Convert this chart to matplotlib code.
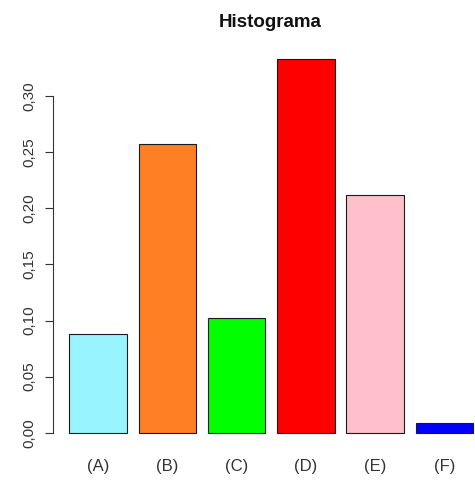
import matplotlib

matplotlib.use("Agg")
import matplotlib.pyplot as plt

# relative frequencies per category
categories = ["(A)", "(B)", "(C)", "(D)", "(E)", "(F)"]
freqs = [0.0877, 0.257, 0.102, 0.333, 0.2116, 0.0089]
bar_colors = ["#98F5FF", "#FF7F24", "#00FF00", "#FF0000", "#FFC0CB", "#0000FF"]
y_ticks = [0.00, 0.05, 0.10, 0.15, 0.20, 0.25, 0.30]
y_labels = ["0,00", "0,05", "0,10", "0,15", "0,20", "0,25", "0,30"]

plt.rcParams["font.family"] = ["Liberation Sans", "DejaVu Sans"]

fig = plt.figure(figsize=(4.75, 4.8), dpi=100)
ax = fig.add_axes([0.1114, 0.0673, 0.8886, 0.8415])

# R barplot style: width 1, space 0.2
lefts = [0.2 + i * 1.2 for i in range(len(categories))]
ax.bar(lefts, freqs, width=1.0, align="edge", color=bar_colors,
       edgecolor="#1a1a1a", linewidth=0.8)

ax.set_xlim(-0.084, 7.231)
ax.set_ylim(-0.0133, 0.3466)

for side in ("top", "right", "bottom"):
    ax.spines[side].set_visible(False)
ax.spines["left"].set_bounds(0, 0.30)
ax.spines["left"].set_color("#333333")
ax.spines["left"].set_linewidth(0.8)

ax.set_yticks(y_ticks)
ax.set_yticklabels(y_labels, rotation=90, va="center", fontsize=11, color="#333333")
ax.tick_params(axis="y", length=6, width=0.8, color="#333333", pad=6)

ax.set_xticks([l + 0.5 for l in lefts])
ax.set_xticklabels(categories, fontsize=12, color="#333333")
ax.tick_params(axis="x", length=0, pad=8)

fig.text(270 / 475, 1 - 26.6 / 480, "Histograma", ha="center", va="baseline",
         fontsize=13.5, fontweight="bold", color="#111111")

fig.savefig("out.png", dpi=100)
